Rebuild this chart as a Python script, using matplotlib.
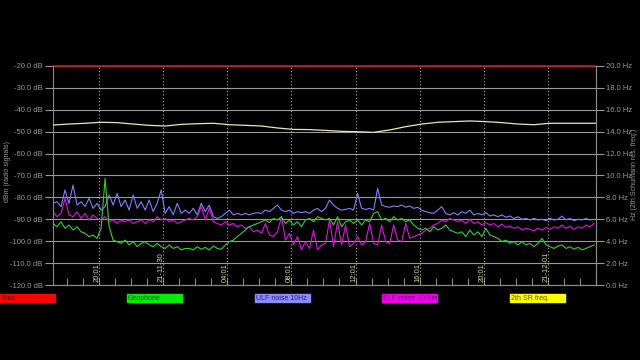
import numpy as np
import matplotlib
matplotlib.use("Agg")
import matplotlib.pyplot as plt
import matplotlib.transforms as mtransforms

plt.rcParams["font.family"] = ["Liberation Sans", "DejaVu Sans"]

# --- data (dB against hours since the left edge) ---
step_h = 0.25

ulf_db = [-82.7, -82.0, -84.2, -76.6, -82.7, -74.4, -83.5, -82.0, -84.2, -80.4, -85.0, -82.7,
          -85.8, -84.2, -78.9, -83.5, -78.2, -84.2, -81.2, -85.8, -78.9, -85.0, -82.0, -85.8,
          -81.2, -86.5, -82.7, -76.6, -87.3, -84.2, -88.0, -82.7, -87.3, -85.8,
          -87.3, -85.0, -88.0, -82.7, -86.5, -83.5, -88.8, -89.6, -88.8, -87.3, -85.8, -88.0,
          -87.3, -88.0, -87.3, -88.0, -87.3, -87.0, -87.3, -85.8, -86.5, -85.0, -83.5, -85.8,
          -86.5, -85.8, -87.3, -86.5, -87.0, -86.5, -87.3, -85.8, -85.0, -86.5,
          -85.0, -81.2, -83.5, -85.0, -85.8, -85.5, -85.0, -85.8, -78.2, -85.0, -85.5, -85.0,
          -85.8, -75.9, -83.5, -84.2, -84.5, -83.9, -84.2, -83.5, -84.5, -83.9, -85.0, -84.5,
          -85.8, -86.5, -87.0, -87.3, -85.8, -84.2, -87.3, -88.0, -87.0, -88.0,
          -86.5, -87.3, -85.8, -88.0, -87.3, -88.0, -87.0, -88.5, -88.0, -88.8, -88.0, -89.1,
          -88.5, -89.6, -88.8, -90.0, -89.6, -90.3, -89.6, -90.3, -90.0, -90.6, -89.6, -90.3,
          -90.0, -88.5, -90.3, -89.6, -90.6, -90.0, -90.3, -89.6, -90.3, -90.0]

elf_db = [-86.5, -88.8, -87.3, -80.4, -88.0, -88.8, -86.5, -89.6, -87.3, -90.3, -88.0, -89.6,
          -90.3, -88.8, -91.1, -90.3, -91.9, -90.3, -91.1, -90.3, -91.9, -91.1, -90.3, -91.9,
          -90.3, -91.1, -88.8, -90.3, -89.6, -91.1, -90.3, -91.9, -91.1, -90.3,
          -89.6, -90.3, -88.8, -84.2, -90.3, -85.0, -91.1, -91.9, -92.6, -91.1, -92.6, -91.9,
          -93.4, -92.6, -94.1, -93.4, -95.7, -94.9, -96.4, -91.9, -97.2, -97.9, -95.7, -88.8,
          -99.5, -96.4, -101.7, -97.9, -104.0, -100.2, -103.3, -94.9, -104.0, -101.7,
          -101.0, -90.3, -102.5, -91.1, -101.7, -92.6, -102.5, -101.0, -97.9, -101.7, -100.2, -91.9,
          -101.0, -101.7, -92.6, -100.2, -101.0, -92.6, -99.5, -100.2, -91.9, -98.7, -97.9, -97.2,
          -96.4, -94.9, -94.1, -92.6, -91.9, -90.3, -91.1, -89.6, -90.3, -91.1,
          -90.3, -91.9, -90.0, -91.9, -91.1, -92.6, -91.5, -92.6, -91.9, -93.4, -92.2, -93.7,
          -93.1, -94.1, -93.4, -94.9, -94.1, -94.6, -95.2, -94.1, -94.9, -93.7, -94.6, -93.4,
          -94.1, -92.6, -94.1, -93.1, -94.6, -93.4, -94.1, -92.6, -93.4, -91.9]

geo_db = [-91.9, -93.4, -91.1, -94.1, -92.6, -94.9, -93.4, -95.7, -96.4, -97.9, -97.2, -98.7,
          -94.1, -71.3, -93.4, -99.5, -100.2, -101.0, -99.5, -101.7, -100.2, -102.5, -101.0, -100.2,
          -101.7, -102.5, -101.0, -102.5, -103.3, -101.7, -103.3, -102.5, -104.0, -103.3,
          -103.3, -104.0, -102.5, -103.7, -102.8, -104.0, -102.2, -103.3, -103.7, -101.7, -100.2, -99.5,
          -97.9, -96.4, -94.9, -93.4, -92.6, -91.9, -91.1, -90.3, -91.5, -89.6, -90.3, -88.8,
          -91.9, -90.3, -92.6, -91.1, -93.4, -90.3, -89.6, -91.1, -88.8, -89.6,
          -90.3, -89.6, -92.6, -88.8, -93.4, -91.1, -90.3, -91.9, -90.3, -92.6, -90.3, -91.1,
          -87.3, -86.5, -90.3, -89.6, -91.1, -88.8, -90.3, -89.6, -91.1, -90.3, -92.6, -94.1,
          -94.9, -94.1, -95.7, -93.4, -94.9, -94.1, -92.6, -94.9, -95.7, -96.4,
          -95.7, -97.9, -94.9, -97.2, -95.7, -97.9, -94.1, -97.2, -97.9, -98.7, -100.2, -99.5,
          -101.0, -100.2, -101.7, -100.2, -101.7, -101.0, -102.5, -101.0, -98.7, -101.7, -102.5, -103.3,
          -102.2, -101.7, -103.3, -102.5, -103.7, -102.8, -104.0, -103.3, -102.5, -101.7]

# 2nd Schumann resonance, Hz, one value per hour
sr_hz = [14.61, 14.70, 14.77, 14.86, 14.83, 14.70, 14.58, 14.52, 14.67, 14.73, 14.77, 14.64,
         14.58, 14.52, 14.34, 14.21, 14.19, 14.12, 14.03, 14.00, 13.94, 14.16, 14.46, 14.70,
         14.86, 14.92, 14.98, 14.92, 14.83, 14.70, 14.64, 14.77, 14.77, 14.77, 14.77]

time_db = [-20.0, -20.0]
time_h = [0.0, 33.8]

tick_h = [2.87, 6.87, 10.87, 14.87, 18.87, 22.87, 26.87, 30.87]
tick_labels = ["20:01", "21-11-30", "04:01", "08:01", "12:01", "16:01", "20:01", "21-12-01"]

legend_names = ["Time", "Geophone", "ULF noise 10Hz", "ELF noise 100Hz", "2th SR freq."]
legend_colors = ["#ff0000", "#00ee00", "#8c8cff", "#ee00ee", "#ffff00"]
legend_text = ["#600000", "#005000", "#202080", "#500050", "#505000"]

h_noise = np.arange(len(ulf_db)) * step_h
h_sr = np.arange(len(sr_hz)) * 1.0

grey = "#8a8a8a"

fig = plt.figure(figsize=(6.4, 3.6), dpi=100, facecolor="black")
ax = fig.add_axes([53 / 640, 75 / 360, 543 / 640, 219 / 360], facecolor="black")

ax.set_xlim(0, 33.8)
ax.set_ylim(-120, -20)
ax.set_yticks(np.arange(-120, -19, 10))
ax.set_yticklabels([f"{v:.1f} dB" for v in np.arange(-120, -19, 10)])
ax.grid(axis="y", color="#9a9a9a", lw=0.8)
for t in tick_h:
    ax.axvline(t, color="#b0b0b0", lw=0.8, ls=(0, (1, 2)))

ax.plot(h_noise, ulf_db, color="#8080ff", lw=0.8)
ax.plot(h_noise, elf_db, color="#e010e0", lw=0.8)
ax.plot(h_noise, geo_db, color="#30d030", lw=0.8)
ax.plot(time_h, time_db, color="#cc1010", lw=1.2, clip_on=False)

ax2 = ax.twinx()
ax2.set_xlim(0, 33.8)
ax2.set_ylim(0, 20)
ax2.set_yticks(np.arange(0, 21, 2))
ax2.set_yticklabels([f"{v:.1f} Hz" for v in np.arange(0, 21, 2)])
ax2.plot(h_sr, sr_hz, color="#e8e8a8", lw=0.9)

for a in (ax, ax2):
    a.spines["top"].set_visible(False)
    for s in ("left", "right", "bottom"):
        a.spines[s].set_color(grey)
    a.tick_params(axis="y", colors="#9a9a9a", labelsize=5.5, length=6, width=0.8, pad=1.5)
ax2.spines["left"].set_visible(False)

ax.set_xticks(tick_h)
ax.set_xticklabels([])
ax.set_xticks(np.arange(0, 34, 1) + 0.87, minor=True)
ax.tick_params(axis="x", which="both", direction="in", length=5, color=grey, width=0.8)

trans = mtransforms.blended_transform_factory(ax.transData, ax.transAxes)
for t, lab in zip(tick_h, tick_labels):
    ax.text(t - 0.12, 0.015, lab, transform=trans, rotation=90, ha="center", va="bottom",
            color="#d8d890", fontsize=5.5)

fig.text(8 / 640, 0.5 + 9 / 360, "dBm (radio signals)", rotation=90, ha="center", va="center",
         color="#9a9a9a", fontsize=5)
fig.text(634 / 640, 0.5 + 6 / 360, "Hz (2th Schumann res. freq.)", rotation=90, ha="center",
         va="center", color="#9a9a9a", fontsize=5)

# legend boxes below the plot
box_x = [0, 127, 255, 382, 510]
for x0, name, c, tc in zip(box_x, legend_names, legend_colors, legend_text):
    fig.patches.append(plt.Rectangle((x0 / 640, 58 / 360), 55 / 640, 8 / 360,
                                     transform=fig.transFigure, color=c, zorder=1))
    fig.text((x0 + 1) / 640, 62 / 360, name, ha="left", va="center", color=tc, fontsize=5)

fig.savefig("out.png", dpi=100, facecolor="black")
